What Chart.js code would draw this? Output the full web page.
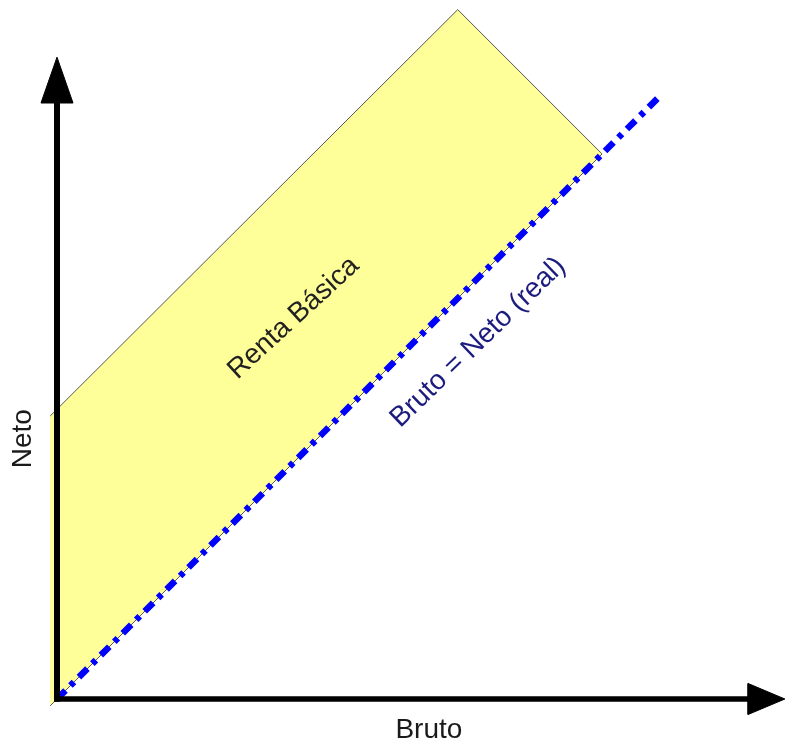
<!DOCTYPE html>
<html>
<head>
<meta charset="utf-8">
<script src="https://cdn.jsdelivr.net/npm/chart.js@4/dist/chart.umd.min.js"></script>
<style>
  html, body { margin: 0; padding: 0; background: #ffffff; }
  canvas { display: block; }
</style>
</head>
<body>
<canvas id="c" width="785" height="746"></canvas>
<script>
// ---- Data (units: Bruto on x, Neto on y) ----
const rentaBasica = 50;                         // basic income shift (Neto at Bruto = 0)
const lineBruto = [0, 106.8];                   // Bruto = Neto (real)
const lineNeto  = [0, 106.8];
const regionBruto = [-1.2, -1.2, 70.8, 96.3];   // "Renta Básica" band corners
const regionNeto  = [-1.2, rentaBasica, 121.8, 96.3];
const axisXEnd = 122.1, axisXTip = 128.6, axisYEnd = 105.3, axisYTip = 113.4;
const axisTitles = ["Bruto", "Neto"];
const bandLabel = "Renta Básica";
const lineLabel = "Bruto = Neto (real)";

function pts(xs, ys) { return xs.map((x, i) => ({ x: x, y: ys[i] })); }

const bandPoly = pts(regionBruto, regionNeto);
const bandEdges = [bandPoly[1], bandPoly[2], bandPoly[3], bandPoly[0]];
const yArrow = [{x: -2.83, y: axisYEnd}, {x: 0, y: axisYTip}, {x: 2.83, y: axisYEnd}, {x: -2.83, y: axisYEnd}];
const xArrow = [{x: axisXEnd, y: -2.74}, {x: axisXTip, y: 0}, {x: axisXEnd, y: 2.74}, {x: axisXEnd, y: -2.74}];

const textPlugin = {
  id: 'texts',
  afterDatasetsDraw(chart) {
    const ctx = chart.ctx, xs = chart.scales.x, ys = chart.scales.y;
    const put = (txt, dx, dy, ang, color) => {
      ctx.save();
      ctx.translate(xs.getPixelForValue(dx), ys.getPixelForValue(dy));
      ctx.rotate(ang);
      ctx.font = '28px "Liberation Sans", Arial, sans-serif';
      ctx.fillStyle = color;
      ctx.textAlign = 'center';
      ctx.textBaseline = 'middle';
      ctx.fillText(txt, 0, 0);
      ctx.restore();
    };
    put(axisTitles[0], 65.7, -5.6, 0, '#1a1a1a');
    put(axisTitles[1], -6.0, 46.0, -Math.PI / 2, '#1a1a1a');
    put(bandLabel, 41.8, 67.3, -42.5 * Math.PI / 180, '#222222');
    put(lineLabel, 74.4, 63.0, -44 * Math.PI / 180, '#1c1c80');
  }
};

new Chart(document.getElementById('c'), {
  type: 'scatter',
  data: {
    datasets: [
      { data: bandPoly, showLine: true, fill: 'shape', backgroundColor: '#ffff99', borderWidth: 0, borderColor: 'rgba(0,0,0,0)', pointRadius: 0, order: 10 },
      { data: bandEdges, showLine: true, fill: false, borderColor: '#555555', borderWidth: 1, pointRadius: 0, order: 9 },
      { data: pts(lineBruto, lineNeto), showLine: true, fill: false, borderColor: '#0000ff', borderWidth: 6.5, borderDash: [12, 7, 5, 7], borderCapStyle: 'butt', pointRadius: 0, order: 5 },
      { data: [{x: 0, y: -0.5}, {x: 0, y: axisYEnd}], showLine: true, fill: false, borderColor: '#000000', borderWidth: 6, pointRadius: 0, order: 3 },
      { data: [{x: -0.5, y: 0}, {x: axisXEnd, y: 0}], showLine: true, fill: false, borderColor: '#000000', borderWidth: 5.5, pointRadius: 0, order: 3 },
      { data: yArrow, showLine: true, fill: 'shape', backgroundColor: '#000000', borderColor: '#000000', borderWidth: 1, pointRadius: 0, order: 2 },
      { data: xArrow, showLine: true, fill: 'shape', backgroundColor: '#000000', borderColor: '#000000', borderWidth: 1, pointRadius: 0, order: 2 }
    ]
  },
  options: {
    responsive: false,
    animation: false,
    events: [],
    layout: { padding: 0 },
    elements: { line: { tension: 0 } },
    scales: {
      x: { type: 'linear', display: false, min: -57 / 5.66, max: (785 - 57) / 5.66 },
      y: { type: 'linear', display: false, min: -(746 - 699) / 5.66, max: 699 / 5.66 }
    },
    plugins: { legend: { display: false }, tooltip: { enabled: false } }
  },
  plugins: [textPlugin]
});
</script>
</body>
</html>
